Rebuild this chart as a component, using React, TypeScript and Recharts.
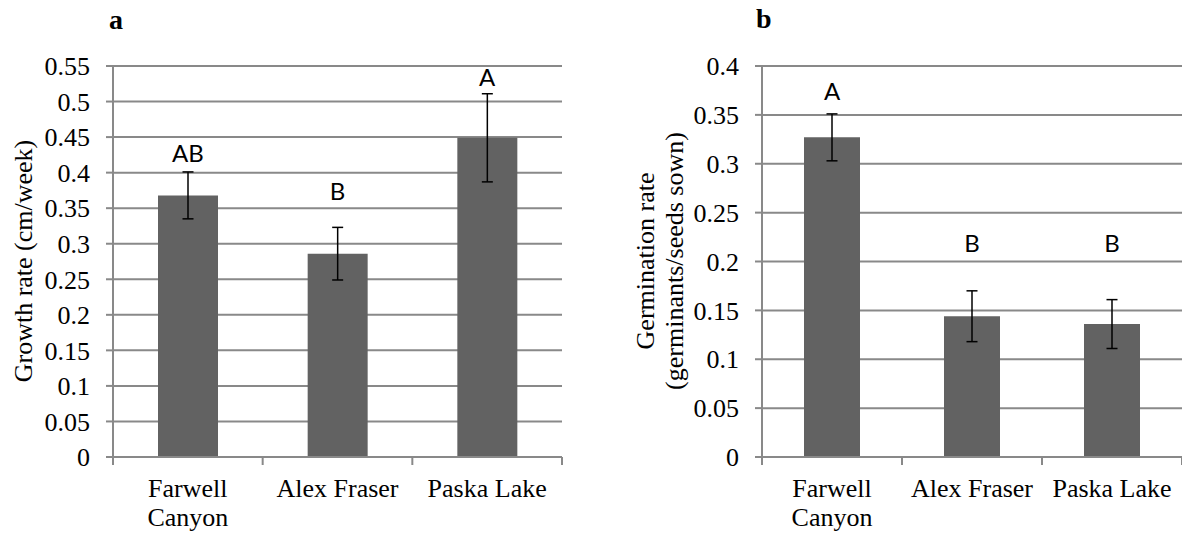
import {
  Bar,
  BarChart,
  CartesianGrid,
  ErrorBar,
  ReferenceDot,
  XAxis,
  YAxis,
} from "recharts";

const sites = ["Farwell Canyon", "Alex Fraser", "Paska Lake"];
// how each site name breaks under its bar
const siteLines = [["Farwell", "Canyon"], ["Alex Fraser"], ["Paska Lake"]];

// a: growth rate (cm/week), mean ± SE
const growthMean = [0.368, 0.286, 0.449];
const growthErr = [0.033, 0.037, 0.062];
const growthLetters = ["AB", "B", "A"];
const growthLetterAt = [0.415, 0.361, 0.522];
const growthTicks = [0, 0.05, 0.1, 0.15, 0.2, 0.25, 0.3, 0.35, 0.4, 0.45, 0.5, 0.55];

// b: germination rate (germinants/seeds sown), mean ± SE
const germMean = [0.327, 0.144, 0.136];
const germErr = [0.024, 0.026, 0.025];
const germLetters = ["A", "B", "B"];
const germLetterAt = [0.365, 0.21, 0.21];
const germTicks = [0, 0.05, 0.1, 0.15, 0.2, 0.25, 0.3, 0.35, 0.4];

const GRID = "#898989";
const BAR = "#626262";
const SERIF = "'Liberation Serif', 'Times New Roman', serif";
const SANS = "Lato, 'Open Sans', sans-serif";
const H = 536;
const TOP = 66;
const X_AXIS_H = 79;

function SiteTick(props: any) {
  const { x, y, index, band, count } = props;
  const lines = siteLines[index] ?? [String(props.payload.value)];
  return (
    <g>
      <line x1={x - band / 2} x2={x - band / 2} y1={y} y2={y + 8} stroke={GRID} strokeWidth={2} />
      {index === count - 1 && (
        <line x1={x + band / 2} x2={x + band / 2} y1={y} y2={y + 8} stroke={GRID} strokeWidth={2} />
      )}
      <text x={x} y={y + 40} textAnchor="middle" fontSize={26} fontFamily={SERIF} fill="#000">
        {lines.map((l, i) => (
          <tspan key={i} x={x} dy={i === 0 ? 0 : 29}>
            {l}
          </tspan>
        ))}
      </text>
    </g>
  );
}

function ValueTick(props: any) {
  const { x, y, payload } = props;
  return (
    <text x={x} y={y} dy="0.355em" textAnchor="end" fontSize={26} fontFamily={SERIF} fill="#000">
      {payload.value}
    </text>
  );
}

interface PanelProps {
  left: number;
  width: number;
  axisW: number;
  rightGap: number;
  mean: number[];
  err: number[];
  letters: string[];
  letterAt: number[];
  ticks: number[];
  barSize: number;
}

function Panel(props: PanelProps) {
  const { left, width, axisW, rightGap, mean, err, letters, letterAt, ticks, barSize } = props;
  const data = sites.map((site, i) => ({ site, mean: mean[i], err: err[i] }));
  const band = (width - axisW - rightGap) / sites.length;
  return (
    <div style={{ position: "absolute", left, top: 0 }}>
      <BarChart
        width={width}
        height={H}
        data={data}
        margin={{ top: TOP, right: rightGap, bottom: 0, left: 0 }}
      >
        <CartesianGrid vertical={false} stroke={GRID} strokeWidth={2} />
        <XAxis
          dataKey="site"
          height={X_AXIS_H}
          interval={0}
          tickLine={false}
          tickSize={0}
          tickMargin={0}
          axisLine={{ stroke: GRID, strokeWidth: 2 }}
          tick={(p: any) => <SiteTick {...p} band={band} count={sites.length} />}
        />
        <YAxis
          type="number"
          width={axisW}
          domain={[0, ticks[ticks.length - 1]]}
          ticks={ticks}
          interval={0}
          tickSize={7}
          tickMargin={16}
          axisLine={{ stroke: GRID, strokeWidth: 2 }}
          tickLine={{ stroke: GRID, strokeWidth: 2 }}
          tick={<ValueTick />}
        />
        <Bar dataKey="mean" fill={BAR} barSize={barSize} isAnimationActive={false}>
          <ErrorBar dataKey="err" width={5.5} stroke="#000" strokeWidth={1.5} isAnimationActive={false} />
        </Bar>
        {sites.map((site, i) => (
          <ReferenceDot
            key={site}
            x={site}
            y={letterAt[i]}
            r={0}
            shape={(p: any) => (
              <text x={p.cx} y={p.cy} textAnchor="middle" fontSize={24} fontFamily={SANS} fill="#000">
                {letters[i]}
              </text>
            )}
          />
        ))}
      </BarChart>
    </div>
  );
}

export default function App() {
  return (
    <div style={{ position: "absolute", left: 0, top: 0, width: 1182, height: H, background: "#fff" }}>
      <Panel
        left={0}
        width={600}
        axisW={113}
        rightGap={38}
        mean={growthMean}
        err={growthErr}
        letters={growthLetters}
        letterAt={growthLetterAt}
        ticks={growthTicks}
        barSize={60}
      />
      <Panel
        left={600}
        width={582}
        axisW={162}
        rightGap={0}
        mean={germMean}
        err={germErr}
        letters={germLetters}
        letterAt={germLetterAt}
        ticks={germTicks}
        barSize={56}
      />
      <svg
        width={1182}
        height={H}
        style={{ position: "absolute", left: 0, top: 0, pointerEvents: "none" }}
      >
        <text x={109} y={29} fontSize={28} fontWeight="bold" fontFamily={SERIF}>a</text>
        <text x={756} y={28} fontSize={28} fontWeight="bold" fontFamily={SERIF}>b</text>
        <text
          x={32}
          y={261}
          transform="rotate(-90 32 261)"
          textAnchor="middle"
          fontSize={26}
          fontFamily={SERIF}
        >
          Growth rate (cm/week)
        </text>
        <text
          x={654}
          y={261}
          transform="rotate(-90 654 261)"
          textAnchor="middle"
          fontSize={26}
          fontFamily={SERIF}
        >
          Germination rate
        </text>
        <text
          x={683}
          y={261}
          transform="rotate(-90 683 261)"
          textAnchor="middle"
          fontSize={26}
          fontFamily={SERIF}
        >
          (germinants/seeds sown)
        </text>
      </svg>
    </div>
  );
}
